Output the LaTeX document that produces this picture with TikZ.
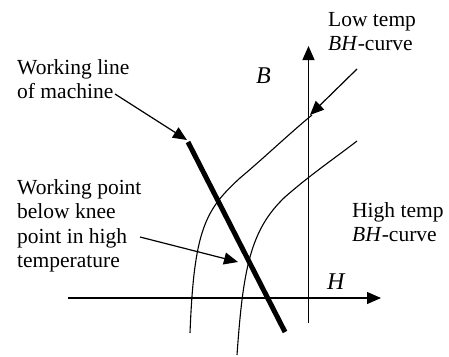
\documentclass[tikz,border=0pt]{standalone}
\usepackage{fontspec}
\setmainfont{Liberation Serif}
\usetikzlibrary{arrows.meta, positioning}

\begin{document}
\begin{tikzpicture}[
  x=1pt, y=-1pt,
  label/.style={anchor=north west, inner sep=0pt, align=left,
    font=\fontsize{21.5}{24.5}\selectfont},
  axis/.style={-{Triangle[length=14pt,width=12pt]}, line width=1.2pt},
  pointer/.style={-{Triangle[length=14pt,width=12pt]}, line width=1.2pt},
  bhcurve/.style={line width=1.1pt},
  axislabel/.style={inner sep=0pt, anchor=base west,
    font=\fontsize{24}{28}\selectfont\itshape}
]
\useasboundingbox (0,0) rectangle (449,356);
% axes
\coordinate (hstart) at (68,298);
\coordinate (hend) at (381,298);
\coordinate (bstart) at (308.5,323);
\coordinate (bend) at (308.5,46);
\draw[axis] (hstart) -- (hend);
\draw[axis] (bstart) -- (bend);
\node[axislabel] (labB) at (256,83) {B};
\node[axislabel] (labH) at (327,289) {H};
% BH-curves
\draw[bhcurve] (190,333) .. controls (194,230) and (205,210) .. (240,178)
  .. controls (265,157) and (290,133) .. (312,115);
\draw[bhcurve] (237,355) .. controls (243,270) and (250,230) .. (285,197)
  .. controls (310,175) and (335,158) .. (357,141);
% working line
\coordinate (wtop) at (188,142);
\coordinate (wbot) at (285,332);
\draw[line width=5pt] (wtop) -- (wbot);
% labels
\node[label] (wline) at (17,59.3) {Working line\\of machine};
\node[label] (lowtemp) at (328,11.8) {Low temp\\\textit{BH}-curve};
\node[label] (hightemp) at (352,202.3) {High temp\\\textit{BH}-curve};
\node[label] (wpoint) at (17,179.3) {Working point\\below knee\\point in high\\temperature};
% pointers
\coordinate (wlinefrom) at (115,94);
\coordinate (wlinetip) at (187,140);
\coordinate (lowfrom) at (357,69);
\coordinate (lowtip) at (310,115);
\coordinate (wpointfrom) at (140,237);
\coordinate (wpointtip) at (238,262);
\draw[pointer] (wlinefrom) -- (wlinetip);
\draw[pointer] (lowfrom) -- (lowtip);
\draw[pointer] (wpointfrom) -- (wpointtip);
\end{tikzpicture}
\end{document}
